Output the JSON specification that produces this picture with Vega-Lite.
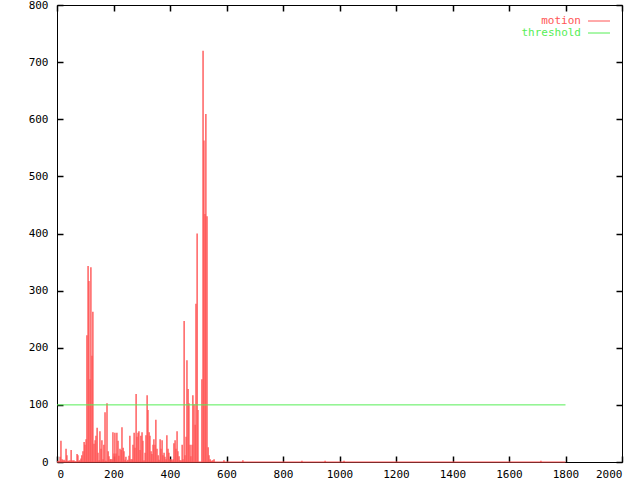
{
  "$schema": "https://vega.github.io/schema/vega-lite/v6.json",
  "width": 565,
  "height": 457,
  "autosize": {"type": "none"},
  "padding": {"left": 57, "top": 5, "right": 18, "bottom": 18},
  "background": "white",
  "config": {
    "view": {"stroke": "black", "strokeWidth": 1},
    "font": "DejaVu Sans Mono",
    "axis": {"labelFont": "DejaVu Sans Mono", "labelFontSize": 11, "labelColor": "black", "tickColor": "#000000", "tickOpacity": 1, "tickWidth": 1.5, "domain": false, "grid": false, "ticks": true, "tickSize": 6, "offset": -6, "zindex": 2, "title": null, "format": "d"}
  },
  "datasets": {
    "motion": [
      {"frame": 4, "motion": 2}, {"frame": 7, "motion": 1}, {"frame": 11, "motion": 9}, {"frame": 14, "motion": 37},
      {"frame": 18, "motion": 5}, {"frame": 21, "motion": 3}, {"frame": 25, "motion": 4}, {"frame": 28, "motion": 2},
      {"frame": 32, "motion": 23}, {"frame": 35, "motion": 12}, {"frame": 39, "motion": 2}, {"frame": 42, "motion": 2},
      {"frame": 46, "motion": 3}, {"frame": 50, "motion": 21}, {"frame": 53, "motion": 3}, {"frame": 57, "motion": 2},
      {"frame": 60, "motion": 3}, {"frame": 64, "motion": 1}, {"frame": 67, "motion": 1}, {"frame": 71, "motion": 14},
      {"frame": 74, "motion": 12}, {"frame": 78, "motion": 2}, {"frame": 81, "motion": 3}, {"frame": 85, "motion": 6},
      {"frame": 88, "motion": 12}, {"frame": 92, "motion": 19}, {"frame": 96, "motion": 35}, {"frame": 99, "motion": 30},
      {"frame": 103, "motion": 40}, {"frame": 106, "motion": 222}, {"frame": 110, "motion": 343}, {"frame": 113, "motion": 317},
      {"frame": 117, "motion": 145}, {"frame": 120, "motion": 341}, {"frame": 124, "motion": 186}, {"frame": 127, "motion": 263},
      {"frame": 131, "motion": 32}, {"frame": 135, "motion": 38}, {"frame": 138, "motion": 46}, {"frame": 142, "motion": 60},
      {"frame": 145, "motion": 16}, {"frame": 149, "motion": 3}, {"frame": 152, "motion": 54}, {"frame": 156, "motion": 23},
      {"frame": 159, "motion": 38}, {"frame": 163, "motion": 5}, {"frame": 166, "motion": 30}, {"frame": 170, "motion": 87},
      {"frame": 173, "motion": 2}, {"frame": 177, "motion": 103}, {"frame": 181, "motion": 19}, {"frame": 184, "motion": 10},
      {"frame": 188, "motion": 5}, {"frame": 191, "motion": 5}, {"frame": 195, "motion": 5}, {"frame": 198, "motion": 52},
      {"frame": 202, "motion": 15}, {"frame": 205, "motion": 51}, {"frame": 209, "motion": 15}, {"frame": 212, "motion": 51},
      {"frame": 216, "motion": 37}, {"frame": 219, "motion": 11}, {"frame": 223, "motion": 23}, {"frame": 227, "motion": 21},
      {"frame": 230, "motion": 61}, {"frame": 234, "motion": 25}, {"frame": 237, "motion": 19}, {"frame": 241, "motion": 4},
      {"frame": 244, "motion": 9}, {"frame": 248, "motion": 1}, {"frame": 251, "motion": 4}, {"frame": 255, "motion": 11},
      {"frame": 258, "motion": 46}, {"frame": 262, "motion": 5}, {"frame": 266, "motion": 5}, {"frame": 269, "motion": 30},
      {"frame": 273, "motion": 51}, {"frame": 276, "motion": 25}, {"frame": 280, "motion": 119}, {"frame": 283, "motion": 44},
      {"frame": 287, "motion": 51}, {"frame": 290, "motion": 54}, {"frame": 294, "motion": 21}, {"frame": 297, "motion": 46},
      {"frame": 301, "motion": 52}, {"frame": 304, "motion": 37}, {"frame": 308, "motion": 3}, {"frame": 312, "motion": 16},
      {"frame": 315, "motion": 47}, {"frame": 319, "motion": 117}, {"frame": 322, "motion": 91}, {"frame": 326, "motion": 52},
      {"frame": 329, "motion": 46}, {"frame": 333, "motion": 19}, {"frame": 336, "motion": 14}, {"frame": 340, "motion": 30},
      {"frame": 343, "motion": 40}, {"frame": 347, "motion": 30}, {"frame": 350, "motion": 74}, {"frame": 354, "motion": 23},
      {"frame": 358, "motion": 12}, {"frame": 361, "motion": 4}, {"frame": 365, "motion": 40}, {"frame": 368, "motion": 23},
      {"frame": 372, "motion": 38}, {"frame": 375, "motion": 12}, {"frame": 379, "motion": 16}, {"frame": 382, "motion": 9},
      {"frame": 386, "motion": 5}, {"frame": 389, "motion": 47}, {"frame": 393, "motion": 23}, {"frame": 396, "motion": 16},
      {"frame": 400, "motion": 5}, {"frame": 404, "motion": 5}, {"frame": 407, "motion": 3}, {"frame": 411, "motion": 5},
      {"frame": 414, "motion": 33}, {"frame": 418, "motion": 38}, {"frame": 421, "motion": 23}, {"frame": 425, "motion": 54},
      {"frame": 428, "motion": 19}, {"frame": 432, "motion": 10}, {"frame": 435, "motion": 3}, {"frame": 439, "motion": 3},
      {"frame": 443, "motion": 30}, {"frame": 446, "motion": 5}, {"frame": 450, "motion": 247}, {"frame": 453, "motion": 12},
      {"frame": 457, "motion": 44}, {"frame": 460, "motion": 178}, {"frame": 464, "motion": 128}, {"frame": 467, "motion": 103},
      {"frame": 471, "motion": 30}, {"frame": 474, "motion": 10}, {"frame": 478, "motion": 30}, {"frame": 481, "motion": 117},
      {"frame": 485, "motion": 101}, {"frame": 489, "motion": 65}, {"frame": 492, "motion": 277}, {"frame": 496, "motion": 400},
      {"frame": 499, "motion": 91}, {"frame": 503, "motion": 0}, {"frame": 506, "motion": 0}, {"frame": 510, "motion": 0},
      {"frame": 513, "motion": 145}, {"frame": 517, "motion": 720}, {"frame": 520, "motion": 563}, {"frame": 524, "motion": 434},
      {"frame": 527, "motion": 609}, {"frame": 531, "motion": 430}, {"frame": 535, "motion": 26}, {"frame": 538, "motion": 12},
      {"frame": 542, "motion": 5}, {"frame": 545, "motion": 2}, {"frame": 549, "motion": 2}, {"frame": 552, "motion": 3},
      {"frame": 556, "motion": 5}, {"frame": 591, "motion": 3}, {"frame": 658, "motion": 3}, {"frame": 867, "motion": 2},
      {"frame": 949, "motion": 2}, {"frame": 1016, "motion": 2}, {"frame": 1713, "motion": 2}
    ],
    "lines": [{"start": 0, "end": 1800, "threshold": 100, "base": 0}]
  },
  "layer": [
    {
      "data": {"name": "motion"},
      "mark": {"type": "rule", "strokeWidth": 1.4},
      "encoding": {
        "x": {"field": "frame", "type": "quantitative", "scale": {"domain": [0, 2000], "nice": false},
              "axis": {"orient": "bottom", "values": [0, 200, 400, 600, 800, 1000, 1200, 1400, 1600, 1800, 2000], "labelPadding": 6}},
        "y": {"field": "motion", "type": "quantitative", "scale": {"domain": [0, 800], "nice": false},
              "axis": {"orient": "left", "values": [0, 100, 200, 300, 400, 500, 600, 700, 800], "labelPadding": 9}},
        "y2": {"datum": 0},
        "color": {"datum": "motion", "type": "nominal",
                  "scale": {"domain": ["motion", "threshold"], "range": ["#ff5555", "#55ee55"]},
                  "legend": {"orient": "none", "legendX": 536, "legendY": 10, "title": null, "padding": 0, "rowPadding": 1,
                             "symbolType": "M-2,0H2", "symbolSize": 121, "symbolStrokeWidth": 1, "symbolFillColor": "transparent",
                             "labelAlign": "right", "labelOffset": -24, "labelFont": "DejaVu Sans Mono", "labelFontSize": 11,
                             "labelColor": {"expr": "datum.value === 'motion' ? '#ff5555' : '#55ee55'"}}}
      }
    },
    {
      "data": {"name": "lines"},
      "mark": {"type": "rule", "color": "#ff5555", "strokeWidth": 1},
      "encoding": {
        "x": {"field": "start", "type": "quantitative", "axis": null},
        "x2": {"field": "end"},
        "y": {"field": "base", "type": "quantitative", "axis": null}
      }
    },
    {
      "data": {"name": "lines"},
      "mark": {"type": "rule", "strokeWidth": 1},
      "encoding": {
        "x": {"field": "start", "type": "quantitative", "axis": null},
        "x2": {"field": "end"},
        "y": {"field": "threshold", "type": "quantitative", "axis": null},
        "color": {"datum": "threshold", "type": "nominal"}
      }
    },
    {
      "data": {"name": "lines"},
      "mark": {"type": "rule", "opacity": 0},
      "encoding": {
        "x": {"field": "start", "type": "quantitative",
              "axis": {"orient": "top", "labels": false, "values": [0, 200, 400, 600, 800, 1000, 1200, 1400, 1600, 1800, 2000]}},
        "y": {"field": "base", "type": "quantitative",
              "axis": {"orient": "right", "labels": false, "values": [0, 100, 200, 300, 400, 500, 600, 700, 800]}}
      }
    }
  ],
  "resolve": {"axis": {"x": "independent", "y": "independent"}}
}
